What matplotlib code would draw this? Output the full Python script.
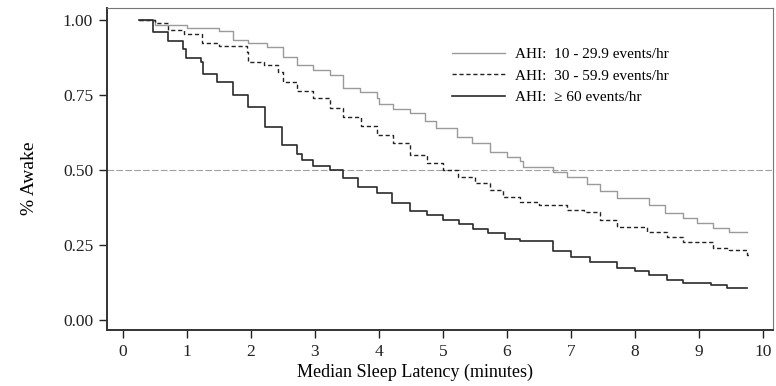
import numpy as np
import matplotlib.pyplot as plt

plt.rcParams['font.family'] = ['Liberation Serif', 'DejaVu Serif']

# step curves: times (minutes) where the curve drops, and the level after each drop
t_low = [0.25, 0.5, 1.0, 1.5, 1.72, 1.95, 2.25, 2.5, 2.72, 2.97, 3.23, 3.44, 3.7, 3.97, 4.0,
         4.22, 4.48, 4.72, 4.9, 5.22, 5.45, 5.73, 6.0, 6.2, 6.25, 6.72, 6.94, 7.25, 7.45,
         7.72, 8.23, 8.47, 8.75, 8.98, 9.22, 9.48, 9.75]
s_low = [1.0, 0.985, 0.975, 0.965, 0.935, 0.923, 0.91, 0.877, 0.85, 0.833, 0.817, 0.775, 0.76,
         0.74, 0.722, 0.705, 0.69, 0.665, 0.64, 0.61, 0.59, 0.56, 0.545, 0.53, 0.51, 0.493,
         0.477, 0.455, 0.43, 0.407, 0.383, 0.357, 0.34, 0.323, 0.307, 0.293, 0.293]

t_mid = [0.25, 0.5, 0.7, 0.95, 1.23, 1.5, 1.94, 1.96, 2.2, 2.42, 2.5, 2.72, 2.97, 3.23, 3.44,
         3.72, 3.97, 4.22, 4.48, 4.75, 5.0, 5.23, 5.5, 5.73, 5.94, 6.2, 6.5, 6.94, 7.2, 7.45,
         7.72, 8.19, 8.5, 8.75, 9.22, 9.48, 9.75, 9.78]
s_mid = [1.0, 0.99, 0.967, 0.955, 0.925, 0.915, 0.893, 0.86, 0.85, 0.827, 0.795, 0.765, 0.74,
         0.707, 0.677, 0.648, 0.617, 0.59, 0.55, 0.525, 0.5, 0.477, 0.457, 0.435, 0.41, 0.393,
         0.383, 0.367, 0.36, 0.333, 0.31, 0.293, 0.277, 0.26, 0.24, 0.233, 0.217, 0.217]

t_high = [0.25, 0.47, 0.7, 0.94, 0.98, 1.22, 1.25, 1.47, 1.72, 1.96, 2.22, 2.48, 2.72, 2.8,
          2.97, 3.23, 3.44, 3.67, 3.97, 4.2, 4.48, 4.75, 5.0, 5.25, 5.47, 5.7, 5.97, 6.2, 6.72,
          7.0, 7.3, 7.72, 8.0, 8.23, 8.5, 8.75, 9.2, 9.45, 9.75]
s_high = [1.0, 0.96, 0.93, 0.905, 0.875, 0.86, 0.82, 0.795, 0.75, 0.71, 0.645, 0.585, 0.555,
          0.535, 0.515, 0.5, 0.473, 0.443, 0.423, 0.39, 0.365, 0.35, 0.335, 0.32, 0.305, 0.29,
          0.27, 0.265, 0.23, 0.21, 0.195, 0.175, 0.165, 0.15, 0.135, 0.125, 0.117, 0.107, 0.107]

labels = ['AHI:  10 - 29.9 events/hr', 'AHI:  30 - 59.9 events/hr', 'AHI:  \u2265 60 events/hr']

fig = plt.figure(figsize=(7.76, 3.86), dpi=100)
ax = fig.add_axes([0.138, 0.145, 0.858, 0.834])

ax.axhline(0.5, color='#a0a0a0', lw=0.8, ls=(0, (6, 2)), zorder=1)

ax.step(t_low, s_low, where='post', color='#9a9a9a', lw=1.0, label=labels[0])
ax.step(t_mid, s_mid, where='post', color='#222222', lw=1.0, ls=(0, (3, 2)), label=labels[1])
ax.step(t_high, s_high, where='post', color='#2a2a2a', lw=1.2, label=labels[2])

ax.set_xlim(-0.25, 10.16)
ax.set_ylim(-0.033, 1.04)
ax.set_xticks(range(11))
ax.set_yticks([0, 0.25, 0.5, 0.75, 1.0])
ax.set_yticklabels(['0.00', '0.25', '0.50', '0.75', '1.00'])
ax.tick_params(direction='out', length=6, width=1.0, labelsize=12.5, colors='#222222', pad=4)

for side in ['left', 'bottom']:
    ax.spines[side].set_linewidth(1.4)
    ax.spines[side].set_color('#333333')
for side in ['top', 'right']:
    ax.spines[side].set_linewidth(0.8)
    ax.spines[side].set_color('#777777')

ax.set_xlabel('Median Sleep Latency (minutes)', fontsize=13)
ax.set_ylabel('% Awake', fontsize=14)
ax.xaxis.set_label_coords(0.4625, -0.105)
ax.yaxis.set_label_coords(-0.104, 0.47)

ax.legend(loc='upper left', bbox_to_anchor=(0.497, 0.92), frameon=False, fontsize=11,
          handlelength=3.5, handletextpad=0.65, labelspacing=0.5)

fig.savefig('out.png', dpi=100)
